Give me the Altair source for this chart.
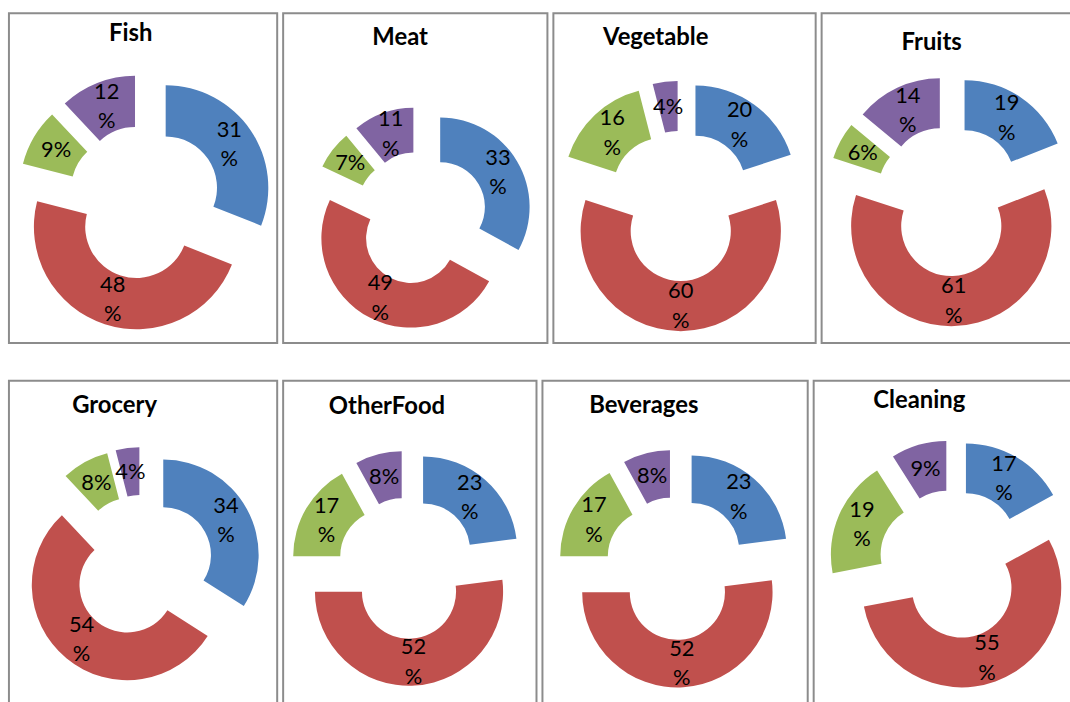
import altair as alt
import pandas as pd

# Share of each answer group per product category (percent)
CATEGORIES = ["Fish", "Meat", "Vegetable", "Fruits", "Grocery", "OtherFood", "Beverages", "Cleaning"]
SERIES = ["Series 1", "Series 2", "Series 3", "Series 4"]
SERIES_1 = [31, 33, 20, 19, 34, 23, 23, 17]
SERIES_2 = [48, 49, 60, 61, 54, 52, 52, 55]
SERIES_3 = [9, 7, 16, 6, 8, 17, 17, 19]
SERIES_4 = [12, 11, 4, 14, 4, 8, 8, 9]
COLORS = ["#4F81BD", "#C0504D", "#9BBB59", "#8064A2"]

rows = []
for i, cat in enumerate(CATEGORIES):
    for k, vals in enumerate([SERIES_1, SERIES_2, SERIES_3, SERIES_4]):
        rows.append({"category": cat, "series": SERIES[k], "order": k, "value": vals[i]})
df = pd.DataFrame(rows)
titles = pd.DataFrame({"category": CATEGORIES})

HOLE = 0.5      # inner radius as a share of the outer radius
EXPLODE = 0.25  # slice displacement as a share of the outer radius
LABEL_R = EXPLODE + (1 + HOLE) / 2
LINE_H = 29.5   # spacing of the two lines of a wrapped label

# box size, ring centre and outer radius (px), title anchor (px)
LAYOUT = {
    "Fish":      dict(w=270, h=332, cx=136.4, cy=190.3, r=103.3, tx=122.5, ty=28.3),
    "Meat":      dict(w=266, h=332, cx=138.7, cy=206.4, r=90.0,  tx=117.7, ty=31.7),
    "Vegetable": dict(w=264, h=332, cx=128.2, cy=194.0, r=100.8, tx=103.0, ty=31.7),
    "Fruits":    dict(w=256, h=332, cx=129.7, cy=189.0, r=100.8, tx=110.7, ty=36.7),
    "Grocery":   dict(w=270, h=328, cx=134.3, cy=186.8, r=96.0,  tx=106.3, ty=32.7),
    "OtherFood": dict(w=255, h=328, cx=125.2, cy=188.6, r=94.7,  tx=104.5, ty=33.7),
    "Beverages": dict(w=267, h=328, cx=134.3, cy=188.9, r=95.8,  tx=102.0, ty=32.7),
    "Cleaning":  dict(w=264, h=328, cx=140.5, cy=184.8, r=100.2, tx=106.3, ty=27.0),
}


def donut(cat):
    p = LAYOUT[cat]
    w, h, cx, cy, r = p["w"], p["h"], p["cx"], p["cy"], p["r"]
    xs = alt.Scale(domain=[-cx / r, (w - cx) / r], range=[0, w], nice=False, zero=False)
    ys = alt.Scale(domain=[-cy / r, (h - cy) / r], range=[0, h], nice=False, zero=False)

    base = (
        alt.Chart(df)
        .transform_filter(alt.datum.category == cat)
        .transform_joinaggregate(total="sum(value)")
        .transform_window(cum="sum(value)", sort=[alt.SortField("order", order="ascending")])
        .transform_calculate(
            a0="2*PI*(datum.cum - datum.value)/datum.total",
            a1="2*PI*datum.cum/datum.total",
        )
        .transform_calculate(mid="(datum.a0 + datum.a1)/2")
        .transform_calculate(
            ox=f"{EXPLODE}*sin(datum.mid)",
            oy=f"-{EXPLODE}*cos(datum.mid)",
            lx=f"{LABEL_R}*sin(datum.mid)",
            ly=f"-{LABEL_R}*cos(datum.mid)",
            label="datum.value < 10 ? datum.value + '%' : datum.value + '\\n%'",
        )
    )

    arcs = base.mark_arc(radius=r, radius2=r * HOLE, strokeWidth=0).encode(
        x=alt.X("ox:Q", scale=xs, axis=None),
        y=alt.Y("oy:Q", scale=ys, axis=None),
        theta=alt.Theta("a0:Q", scale=None, stack=None),
        theta2="a1:Q",
        color=alt.Color("series:N", scale=alt.Scale(domain=SERIES, range=COLORS), legend=None),
    )

    label_enc = dict(
        x=alt.X("lx:Q", scale=xs, axis=None),
        y=alt.Y("ly:Q", scale=ys, axis=None),
        text="label:N",
    )
    text_style = dict(font="Lato", fontSize=22, lineBreak="\n", lineHeight=LINE_H,
                      align="center", baseline="middle", color="#000000")
    # one-line labels sit on the ring's mid radius; wrapped ones are centred as a block
    short_labels = base.transform_filter(alt.datum.value < 10).mark_text(**text_style).encode(**label_enc)
    long_labels = base.transform_filter(alt.datum.value >= 10).mark_text(
        dy=-LINE_H / 2, **text_style).encode(**label_enc)

    heading = (
        alt.Chart(titles)
        .transform_filter(alt.datum.category == cat)
        .mark_text(font="Lato", fontSize=24, fontWeight="bold", align="center",
                   baseline="alphabetic", color="#000000")
        .encode(x=alt.value(p["tx"]), y=alt.value(p["ty"]), text="category:N")
    )

    return alt.layer(arcs, short_labels, long_labels, heading).properties(width=w, height=h)


top = alt.hconcat(*[donut(c) for c in CATEGORIES[:4]], spacing=4)
bottom = alt.hconcat(*[donut(c) for c in CATEGORIES[4:]], spacing=4)

# the right-hand column and the lower row run past the page edge, as cropped panels
chart = (
    alt.vconcat(top, bottom, spacing=36)
    .properties(padding={"left": 8, "top": 10, "right": -7, "bottom": -5}, background="white")
    .configure_view(stroke="#8C8C8C", strokeWidth=2)
)

chart.save("out.html", embed_options={"renderer": "svg", "actions": False})
